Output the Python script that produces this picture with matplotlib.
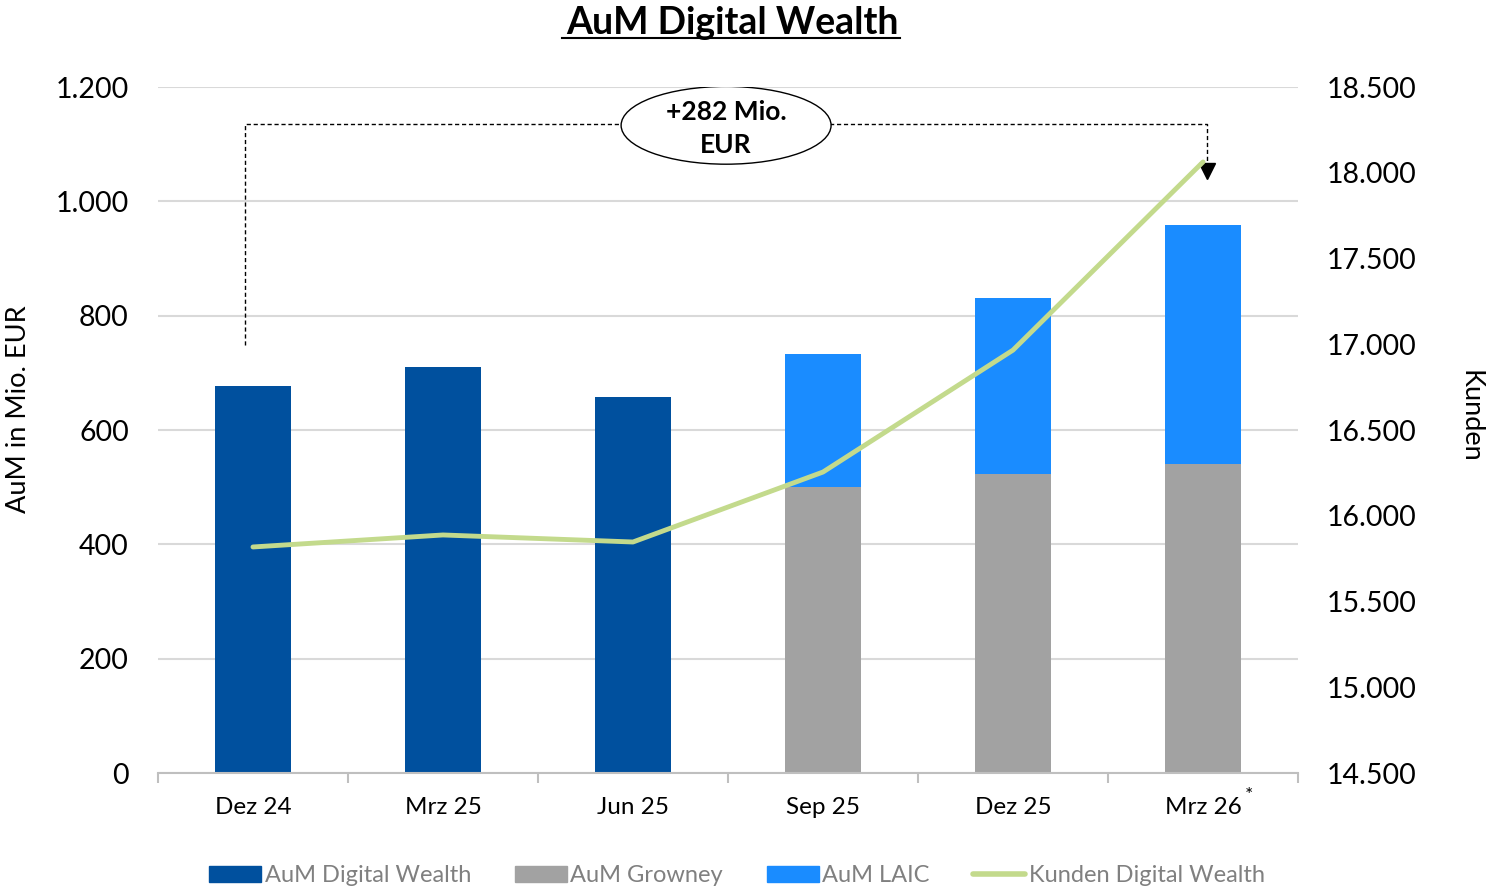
import matplotlib
matplotlib.use("Agg")
import matplotlib.pyplot as plt
from matplotlib.patches import Ellipse
from matplotlib.lines import Line2D
from matplotlib.ticker import FuncFormatter
import numpy as np

plt.rcParams["font.family"] = ["Lato", "DejaVu Sans"]

# ---------------------------------------------------------------------------
# Data
# ---------------------------------------------------------------------------
quarters = ["Dez 24", "Mrz 25", "Jun 25", "Sep 25", "Dez 25", "Mrz 26"]
aum_digital_wealth = [677, 710, 658, 0, 0, 0]
aum_growney = [0, 0, 0, 500, 523, 540]
aum_laic = [0, 0, 0, 233, 308, 419]
kunden = [15818, 15888, 15847, 16255, 16966, 18063]
delta_label = "+282 Mio.\nEUR"

C_DW = "#00509E"
C_GROW = "#A2A2A2"
C_LAIC = "#1A8CFF"
C_LINE = "#C3DA8C"

def de_fmt(v, _pos=None):
    return f"{int(v):,}".replace(",", ".")

fig = plt.figure(figsize=(14.86, 8.88), dpi=100)
ax = fig.add_axes([0.1063, 0.1295, 0.7672, 0.7725])
ax2 = ax.twinx()

x = np.arange(len(quarters))
w = 0.4
dw = np.array(aum_digital_wealth)
gr = np.array(aum_growney)
la = np.array(aum_laic)
ax.bar(x, dw, w, color=C_DW, zorder=2)
ax.bar(x, gr, w, color=C_GROW, zorder=2)
ax.bar(x, la, w, bottom=gr, color=C_LAIC, zorder=2)

ax.set_xlim(-0.5, len(quarters) - 0.5)
ax.set_ylim(0, 1200)
ax.set_yticks(np.arange(0, 1201, 200))
ax.yaxis.set_major_formatter(FuncFormatter(de_fmt))
ax.grid(axis="y", color="#D9D9D9", lw=1.5, zorder=0)
ax.set_axisbelow(True)

ax.set_xticks(x)
ax.set_xticklabels(quarters, fontsize=17.5)
ax.set_xticks(np.arange(-0.5, len(quarters)), minor=True)
ax.tick_params(axis="x", which="major", length=0, pad=17)
ax.tick_params(axis="x", which="minor", length=7, color="#BFBFBF", width=1.5)
ax.tick_params(axis="y", length=0, labelsize=20.5, pad=21)
for s in ["top", "left", "right"]:
    ax.spines[s].set_visible(False)
ax.spines["bottom"].set_color("#BFBFBF")
ax.spines["bottom"].set_linewidth(1.5)
ax.set_ylabel("AuM in Mio. EUR", fontsize=19.5)
ax.yaxis.set_label_coords(-0.111, 0.53)

# asterisk on last label
ax.text(len(quarters) - 1 + 0.24, -40, "*", fontsize=14, ha="center", va="center")

ax2.plot(x, kunden, color=C_LINE, lw=3.5, zorder=3, solid_capstyle="round")
ax2.set_ylim(14500, 18500)
ax2.set_yticks(np.arange(14500, 18501, 500))
ax2.yaxis.set_major_formatter(FuncFormatter(de_fmt))
ax2.tick_params(axis="y", length=0, labelsize=20.5, pad=21)
for s in ["top", "left", "right", "bottom"]:
    ax2.spines[s].set_visible(False)
ax2.set_ylabel("Kunden", fontsize=19.5, rotation=270, va="center")
ax2.yaxis.set_label_coords(1.1505, 0.52)

# bracket annotation
bx0, bx1 = -0.04, 5.02
ax.plot([bx0, bx0, bx1, bx1], [748, 1135, 1135, 1060], color="black", lw=1,
        ls=(0, (3, 2)), zorder=4, clip_on=False)
ax.plot([bx1], [1053], marker="v", color="black", markersize=11, zorder=4, clip_on=False)
ax.add_patch(Ellipse((2.49, 1133), 1.105, 136, facecolor="white", edgecolor="black",
                     lw=1, zorder=5))
ax.text(2.49, 1127, delta_label, ha="center", va="center", fontsize=19,
        fontweight="bold", linespacing=1.45, zorder=6)

# title with underline
fig.text(0.4926, 0.974, "AuM Digital Wealth", ha="center", va="center",
         fontsize=27, fontweight="bold")
fig.add_artist(Line2D([562 / 1486, 900 / 1486], [1 - 38 / 888, 1 - 38 / 888],
                      color="black", lw=1.5))

handles = [
    plt.Rectangle((0, 0), 1, 1, color=C_DW),
    plt.Rectangle((0, 0), 1, 1, color=C_GROW),
    plt.Rectangle((0, 0), 1, 1, color=C_LAIC),
    Line2D([0], [0], color=C_LINE, lw=4, solid_capstyle="round"),
]
labels = ["AuM Digital Wealth", "AuM Growney", "AuM LAIC", "Kunden Digital Wealth"]
leg = fig.legend(handles, labels, loc="center", bbox_to_anchor=(0.496, 0.014), ncol=4,
                 frameon=False, prop={"size": 17}, handlelength=2.2,
                 handleheight=0.7, handletextpad=0.15, columnspacing=1.85)
for txt in leg.get_texts():
    txt.set_color("#808080")

fig.savefig("out.png", dpi=100)
